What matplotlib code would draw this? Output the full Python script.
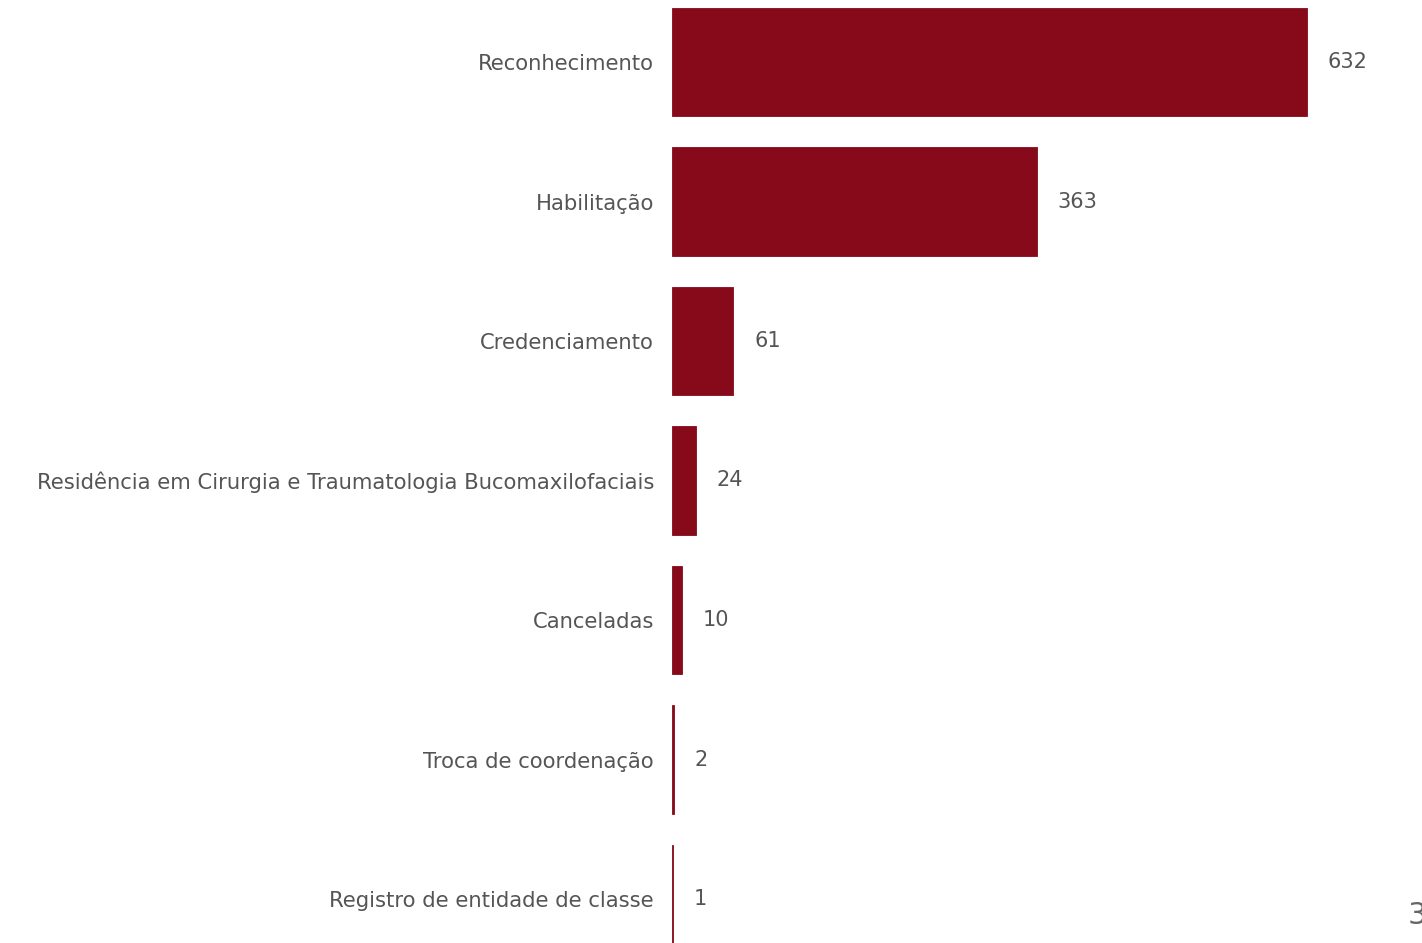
import matplotlib.pyplot as plt

# Solicitações por tipo
categorias = [
    "Reconhecimento",
    "Habilitação",
    "Credenciamento",
    "Residência em Cirurgia e Traumatologia Bucomaxilofaciais",
    "Canceladas",
    "Troca de coordenação",
    "Registro de entidade de classe",
]
valores = [632, 363, 61, 24, 10, 2, 1]

W, H = 1422, 943
fig = plt.figure(figsize=(W / 100, H / 100), dpi=100)

# axes placed in pixel terms: starts at x=672, covers full height
ax = fig.add_axes([672 / W, 0, 1 - 672 / W, 1])
ax.set_xlim(0, (W - 672) / 1.005)
passo = 139.5
ax.set_ylim((H - 62) / passo, -62 / passo)

pos = range(len(categorias))
ax.barh(pos, valores, height=0.775, color="#870a1a",
        edgecolor="#870a1a", linewidth=0.6)

for y, v in zip(pos, valores):
    ax.annotate(str(v), (v, y), xytext=(15, 0), textcoords="offset points",
                ha="left", va="center", fontsize=15, color="#555555")

ax.set_yticks(list(pos))
ax.set_yticklabels(categorias, fontsize=15.2, color="#555555")
ax.tick_params(axis="y", length=0, pad=13)
ax.set_xticks([])
for s in ax.spines.values():
    s.set_visible(False)

# page number cut at the edge
fig.text(1408 / W, 1 - 915 / H, "3", fontsize=22, color="#666666",
         ha="left", va="center")

fig.savefig("out.png", dpi=100)
